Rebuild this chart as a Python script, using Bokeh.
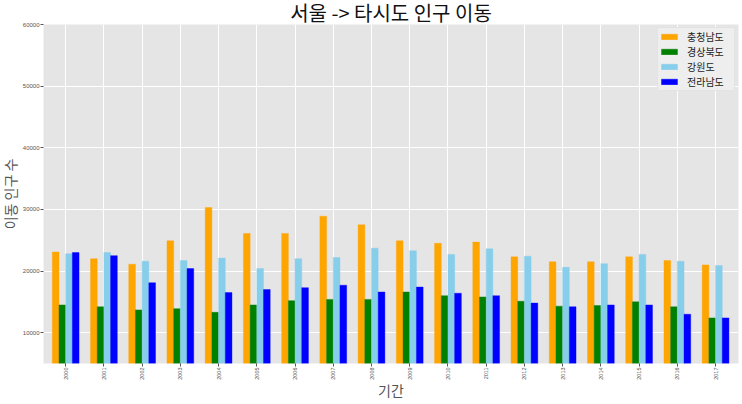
import math
from bokeh.plotting import figure
from bokeh.models import ColumnDataSource, Range1d, FixedTicker, Title
from bokeh.transform import dodge
from bokeh.embed import file_html
from bokeh.resources import INLINE

# ---- data ----
years = [2000, 2001, 2002, 2003, 2004, 2005, 2006, 2007, 2008,
         2009, 2010, 2011, 2012, 2013, 2014, 2015, 2016, 2017]
year_labels = [str(y) for y in years]
series_names = ["충청남도", "경상북도", "강원도", "전라남도"]
chungnam = [23100, 22000, 21100, 24900, 30300, 26100, 26100, 28900, 27500,
            24900, 24500, 24700, 22300, 21500, 21500, 22300, 21700, 21000]
gyeongbuk = [14500, 14200, 13700, 13900, 13300, 14500, 15200, 15400, 15400,
             16600, 16000, 15800, 15100, 14300, 14400, 15000, 14200, 12400]
gangwon = [22800, 23000, 21600, 21700, 22100, 20400, 22000, 22200, 23700,
           23300, 22700, 23600, 22400, 20600, 21200, 22700, 21600, 20900]
jeonnam = [23000, 22500, 18100, 20400, 16500, 17000, 17300, 17700, 16600,
           17400, 16400, 16000, 14800, 14200, 14500, 14500, 13000, 12400]
y_ticks = [10000, 20000, 30000, 40000, 50000, 60000]

colors = ["orange", "green", "skyblue", "blue"]
offsets = [-0.2625, -0.0875, 0.0875, 0.2625]
bar_w = 0.175

source = ColumnDataSource(dict(year=years, s0=chungnam, s1=gyeongbuk, s2=gangwon, s3=jeonnam))

KFONT = "Noto Sans CJK KR"
NFONT = "Liberation Sans"

p = figure(width=742, height=404,
           x_range=Range1d(2000 - 0.58, 2017.6),
           y_range=Range1d(5000, 60000),
           output_backend="svg", toolbar_location=None,
           min_border_left=41, min_border_right=4,
           min_border_top=24, min_border_bottom=41)

p.title.text = "서울 -> 타시도 인구 이동"
p.title.text_font = KFONT
p.title.text_font_size = "20px"
p.title.text_font_style = "normal"
p.title.text_color = "#111111"
p.title.align = "center"
p.title.vertical_align = "middle"
p.title.offset = 0
p.title.standoff = -7

p.background_fill_color = "#E5E5E5"
p.border_fill_color = "white"
p.outline_line_color = None

for i, (name, col) in enumerate(zip(series_names, colors)):
    p.vbar(x=dodge("year", offsets[i]), top="s%d" % i, bottom=0, width=bar_w,
           source=source, fill_color=col, line_color=col, line_alpha=0.5,
           line_width=0.8, legend_label=name)

# axes
p.xaxis.ticker = FixedTicker(ticks=years)
p.xaxis.major_label_overrides = {y: lab for y, lab in zip(years, year_labels)}
p.xaxis.major_label_orientation = math.pi / 2
p.yaxis.ticker = FixedTicker(ticks=y_ticks)
for ax in (p.xaxis[0], p.yaxis[0]):
    ax.axis_line_color = None
    ax.major_tick_line_color = "#555555"
    ax.major_tick_in = 0
    ax.major_tick_out = 3
    ax.minor_tick_line_color = None
    ax.major_label_text_font = NFONT
    ax.major_label_text_color = "#555555"
    ax.major_label_standoff = 1
p.xaxis.major_label_text_font_size = "5.5px"
p.yaxis.major_label_text_font_size = "6px"
p.xaxis.axis_label = "기간"
p.xaxis.axis_label_text_font = KFONT
p.xaxis.axis_label_text_font_size = "14px"
p.xaxis.axis_label_text_font_style = "normal"
p.xaxis.axis_label_text_color = "#555555"
p.xaxis.axis_label_standoff = -3

# y-axis label as a side title (outside the y axis)
p.add_layout(Title(text="이동 인구 수", text_font=KFONT, text_font_size="14px",
                   text_font_style="normal", text_color="#555555",
                   align="center", vertical_align="middle",
                   offset=0, standoff=-3), "left")

p.xgrid.ticker = FixedTicker(ticks=years)
p.grid.grid_line_color = "white"
p.grid.grid_line_width = 1

# legend
lg = p.legend[0]
lg.location = "top_right"
lg.margin = 3
lg.padding = 1
lg.spacing = 0
lg.label_height = 10
lg.label_width = 46
lg.glyph_height = 7
lg.glyph_width = 20
lg.label_standoff = 8
lg.label_text_font = KFONT
lg.label_text_font_size = "10px"
lg.label_text_color = "#222222"
lg.label_text_baseline = "middle"
lg.background_fill_color = "#EEEEEE"
lg.background_fill_alpha = 1.0
lg.border_line_color = "#D8D8D8"

open("out.html", "w").write(file_html(p, INLINE))
